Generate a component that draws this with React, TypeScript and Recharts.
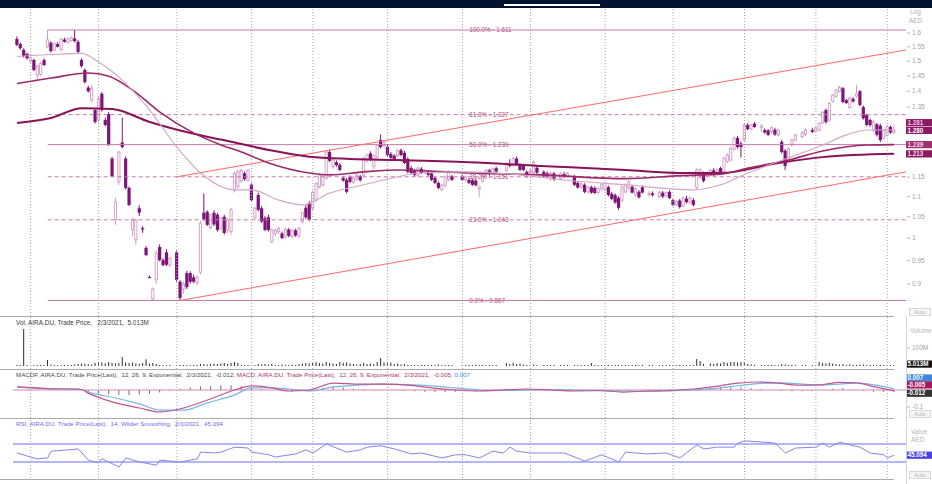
import React from 'react';
import { ComposedChart, Bar, Line, XAxis, YAxis, ReferenceLine, ReferenceDot } from 'recharts';

type Row = [number, number, number, number, number] | null; // open, high, low, close, volume (M)

// ---- daily candles, one array per month (trading days) ----
const JAN20: Row[] = [
  [1.578, 1.588, 1.553, 1.557, 4], [1.560, 1.566, 1.540, 1.545, 3], [1.539, 1.545, 1.512, 1.518, 205], [1.525, 1.530, 1.505, 1.510, 6],
];
const FEB20: Row[] = [
  [1.500, 1.515, 1.495, 1.512, 4], [1.504, 1.508, 1.466, 1.470, 5], [1.453, 1.487, 1.437, 1.483, 4], [1.455, 1.498, 1.450, 1.492, 3],
  [1.504, 1.510, 1.483, 1.487, 5], [1.550, 1.611, 1.545, 1.575, 33], [1.565, 1.570, 1.530, 1.535, 8], [1.538, 1.566, 1.535, 1.561, 4],
  [1.560, 1.567, 1.548, 1.550, 3], [1.540, 1.582, 1.535, 1.578, 4], [1.576, 1.582, 1.565, 1.568, 3], [1.566, 1.584, 1.562, 1.580, 3],
  [1.572, 1.588, 1.568, 1.583, 4], [1.580, 1.611, 1.566, 1.570, 8], [1.568, 1.575, 1.525, 1.532, 11], [1.504, 1.510, 1.478, 1.483, 14],
  [1.470, 1.475, 1.425, 1.430, 12], [1.412, 1.418, 1.396, 1.400, 9], [1.372, 1.420, 1.365, 1.410, 8], [1.341, 1.346, 1.300, 1.305, 17],
];
const MAR20: Row[] = [
  [1.311, 1.385, 1.305, 1.376, 22], [1.392, 1.398, 1.336, 1.341, 20], [1.311, 1.318, 1.292, 1.296, 15], [1.329, 1.335, 1.235, 1.238, 22],
  [1.200, 1.205, 1.150, 1.152, 17], [1.043, 1.097, 1.031, 1.087, 14], [1.138, 1.222, 1.130, 1.218, 17], [1.245, 1.318, 1.228, 1.232, 50],
  [1.200, 1.206, 1.118, 1.122, 20], [1.122, 1.126, 1.076, 1.079, 17], [1.019, 1.047, 1.005, 1.043, 20], [0.996, 1.045, 0.985, 1.043, 14],
  [1.071, 1.078, 1.052, 1.060, 11], [1.023, 1.028, 1.012, 1.020, 17], [0.978, 0.982, 0.960, 0.962, 38], [0.915, 0.918, 0.912, 0.914, 14],
  [0.870, 0.893, 0.867, 0.890, 17], [0.909, 0.973, 0.900, 0.966, 11], [0.980, 0.986, 0.948, 0.951, 6], [0.951, 0.955, 0.938, 0.940, 5],
  [0.968, 0.975, 0.938, 0.941, 4], [0.940, 0.958, 0.936, 0.955, 5],
];
const APR20: Row[] = [
  [0.968, 0.972, 0.905, 0.909, 4], [0.905, 0.908, 0.867, 0.872, 5], [0.890, 0.905, 0.880, 0.900, 3], [0.923, 0.928, 0.890, 0.894, 5],
  [0.923, 0.927, 0.901, 0.905, 3], [0.914, 0.920, 0.902, 0.905, 4], [0.903, 0.918, 0.898, 0.914, 6], [0.925, 1.040, 0.920, 1.035, 11],
  [1.060, 1.108, 1.040, 1.045, 11], [1.062, 1.066, 1.028, 1.031, 8], [1.025, 1.058, 1.020, 1.055, 11], [1.060, 1.066, 1.028, 1.032, 14],
  [1.055, 1.060, 1.015, 1.019, 11], [1.023, 1.050, 1.018, 1.047, 14], [1.050, 1.055, 1.008, 1.012, 17], [1.019, 1.047, 1.012, 1.043, 11],
  [1.015, 1.072, 1.008, 1.067, 17], [1.117, 1.165, 1.110, 1.160, 22], [1.125, 1.170, 1.120, 1.165, 17], [1.140, 1.172, 1.135, 1.168, 6],
  [1.160, 1.165, 1.140, 1.145, 5], [1.142, 1.172, 1.138, 1.169, 5],
];
const MAY20: Row[] = [
  [1.130, 1.136, 1.088, 1.091, 4], [1.048, 1.074, 1.042, 1.071, 5], [1.104, 1.110, 1.063, 1.067, 11], [1.071, 1.076, 1.035, 1.039, 8],
  [1.047, 1.052, 1.016, 1.019, 11], [1.049, 1.055, 1.015, 1.019, 8], [0.992, 1.023, 0.988, 1.019, 11], [1.011, 1.022, 1.005, 1.018, 6],
  [1.015, 1.026, 1.010, 1.022, 5], [1.011, 1.015, 0.998, 1.000, 8], [1.003, 1.025, 1.000, 1.020, 5], [1.020, 1.024, 1.002, 1.005, 6],
  [1.004, 1.022, 1.000, 1.018, 8], [1.018, 1.022, 1.003, 1.006, 5], [1.005, 1.026, 1.000, 1.022, 11], [1.038, 1.063, 1.034, 1.060, 14],
  [1.072, 1.078, 1.045, 1.049, 17], [1.083, 1.088, 1.040, 1.043, 14],
];
const JUN20: Row[] = [
  [1.071, 1.115, 1.066, 1.110, 17], [1.091, 1.137, 1.087, 1.133, 22], [1.125, 1.160, 1.120, 1.156, 17], [1.130, 1.160, 1.125, 1.156, 14],
  [1.148, 1.222, 1.143, 1.218, 22], [1.218, 1.225, 1.190, 1.194, 17], [1.178, 1.200, 1.172, 1.196, 14], [1.190, 1.195, 1.178, 1.182, 11],
  [1.183, 1.188, 1.166, 1.169, 22], [1.148, 1.152, 1.138, 1.141, 17], [1.143, 1.148, 1.108, 1.112, 20], [1.150, 1.155, 1.134, 1.138, 14],
  [1.137, 1.152, 1.132, 1.148, 11], [1.145, 1.160, 1.140, 1.155, 8], [1.152, 1.156, 1.138, 1.142, 11], [1.155, 1.205, 1.150, 1.200, 17],
  [1.195, 1.214, 1.188, 1.210, 11], [1.214, 1.220, 1.193, 1.196, 14], [1.178, 1.212, 1.172, 1.208, 11], [1.204, 1.240, 1.200, 1.236, 22],
  [1.252, 1.268, 1.228, 1.232, 44], [1.236, 1.250, 1.230, 1.246, 20],
];
const JUL20: Row[] = [
  [1.233, 1.240, 1.206, 1.210, 17], [1.213, 1.218, 1.199, 1.202, 20], [1.208, 1.212, 1.194, 1.197, 11], [1.208, 1.226, 1.204, 1.222, 14],
  [1.223, 1.228, 1.206, 1.210, 8], [1.216, 1.222, 1.185, 1.188, 11], [1.199, 1.204, 1.160, 1.164, 6], [1.174, 1.180, 1.158, 1.161, 5],
  [1.166, 1.172, 1.152, 1.156, 5], [1.155, 1.178, 1.150, 1.174, 4], [1.172, 1.177, 1.158, 1.161, 5], [1.162, 1.172, 1.158, 1.168, 4],
  [1.165, 1.169, 1.152, 1.156, 5], [1.160, 1.165, 1.140, 1.143, 6], [1.148, 1.152, 1.132, 1.135, 5], [1.135, 1.139, 1.118, 1.122, 8],
  [1.118, 1.132, 1.114, 1.129, 5], [1.128, 1.155, 1.124, 1.150, 6], [1.143, 1.168, 1.139, 1.164, 5], [1.152, 1.156, 1.140, 1.143, 4],
];
const AUG20: Row[] = [
  [1.152, 1.156, 1.140, 1.143, 4], [1.143, 1.155, 1.139, 1.150, 5], [1.143, 1.147, 1.132, 1.135, 5], [1.142, 1.146, 1.127, 1.130, 6],
  [1.141, 1.145, 1.126, 1.129, 8], [1.120, 1.128, 1.098, 1.125, 5], [1.140, 1.160, 1.136, 1.156, 6], [1.158, 1.172, 1.154, 1.168, 5],
  [1.168, 1.172, 1.154, 1.158, 4], [1.160, 1.176, 1.156, 1.172, 5], [1.174, 1.178, 1.162, 1.165, 6], null, null,
  [1.168, 1.190, 1.164, 1.187, 17], [1.186, 1.198, 1.176, 1.180, 11], [1.182, 1.205, 1.178, 1.200, 17], [1.200, 1.206, 1.180, 1.183, 11],
  [1.183, 1.188, 1.166, 1.169, 14], [1.182, 1.186, 1.166, 1.169, 8], [1.164, 1.168, 1.148, 1.152, 5],
];
const SEP20: Row[] = [
  [1.162, 1.172, 1.158, 1.168, 5], [1.162, 1.195, 1.158, 1.190, 8], [1.175, 1.180, 1.158, 1.162, 5], null,
  [1.164, 1.168, 1.148, 1.152, 6], [1.160, 1.165, 1.148, 1.151, 5], [1.150, 1.165, 1.140, 1.160, 4], [1.160, 1.164, 1.140, 1.145, 5], null,
  [1.146, 1.164, 1.142, 1.160, 4], [1.158, 1.164, 1.148, 1.152, 5], [1.152, 1.164, 1.148, 1.160, 4], null,
  [1.152, 1.156, 1.127, 1.130, 6], [1.135, 1.140, 1.120, 1.123, 5], [1.124, 1.136, 1.119, 1.132, 4], [1.130, 1.134, 1.108, 1.112, 6],
  [1.112, 1.127, 1.108, 1.124, 5], [1.124, 1.128, 1.107, 1.110, 17], [1.122, 1.126, 1.106, 1.109, 6], [1.110, 1.124, 1.106, 1.120, 5],
  [1.120, 1.134, 1.114, 1.130, 4],
];
const OCT20: Row[] = [
  [1.117, 1.138, 1.113, 1.134, 5], [1.124, 1.128, 1.100, 1.104, 4], [1.107, 1.112, 1.091, 1.094, 5], [1.104, 1.108, 1.082, 1.085, 4],
  [1.097, 1.101, 1.067, 1.072, 6], [1.091, 1.128, 1.086, 1.124, 5], [1.112, 1.134, 1.108, 1.130, 4], [1.122, 1.142, 1.117, 1.138, 5],
  [1.125, 1.130, 1.108, 1.110, 4], [1.104, 1.124, 1.100, 1.120, 3], [1.112, 1.116, 1.095, 1.098, 4], [1.124, 1.128, 1.108, 1.110, 5], null,
  [1.105, 1.114, 1.100, 1.108, 3], [1.108, 1.113, 1.100, 1.104, 3], null,
  [1.100, 1.114, 1.096, 1.110, 3], [1.110, 1.114, 1.096, 1.100, 4], [1.102, 1.113, 1.098, 1.110, 3], [1.112, 1.116, 1.094, 1.096, 4],
];
const NOV20: Row[] = [
  [1.091, 1.094, 1.076, 1.079, 4], [1.080, 1.092, 1.076, 1.088, 3], [1.090, 1.094, 1.070, 1.074, 4], [1.078, 1.100, 1.074, 1.096, 5],
  [1.095, 1.102, 1.083, 1.086, 4], [1.086, 1.100, 1.080, 1.096, 5], [1.091, 1.096, 1.075, 1.079, 6], [1.123, 1.174, 1.118, 1.169, 39],
  [1.150, 1.175, 1.145, 1.169, 28], [1.160, 1.165, 1.136, 1.140, 11], null, [1.156, 1.172, 1.152, 1.168, 14],
  [1.168, 1.174, 1.152, 1.156, 11], [1.158, 1.173, 1.154, 1.169, 17], [1.174, 1.178, 1.160, 1.164, 14], [1.164, 1.205, 1.160, 1.200, 22],
  [1.193, 1.215, 1.188, 1.210, 17], [1.196, 1.232, 1.192, 1.228, 22], [1.226, 1.262, 1.222, 1.257, 22], [1.258, 1.264, 1.228, 1.232, 20],
  [1.242, 1.248, 1.203, 1.232, 22],
];
const DEC20: Row[] = [
  [1.252, 1.300, 1.248, 1.296, 22], [1.296, 1.302, 1.280, 1.284, 11], [1.284, 1.300, 1.280, 1.296, 8], [1.300, 1.305, 1.288, 1.290, 6], null,
  [1.288, 1.298, 1.276, 1.294, 5], [1.281, 1.286, 1.270, 1.274, 5], [1.280, 1.284, 1.263, 1.267, 6], [1.276, 1.292, 1.272, 1.288, 5],
  [1.282, 1.288, 1.264, 1.268, 6], [1.267, 1.284, 1.262, 1.281, 5], [1.247, 1.252, 1.214, 1.218, 11], [1.222, 1.226, 1.169, 1.180, 8],
  [1.203, 1.232, 1.198, 1.227, 6], [1.238, 1.256, 1.234, 1.252, 5], [1.252, 1.270, 1.248, 1.266, 6], null,
  [1.262, 1.278, 1.258, 1.273, 5], [1.268, 1.286, 1.264, 1.281, 6], null, [1.281, 1.288, 1.272, 1.276, 5],
];
const JAN21: Row[] = [
  [1.278, 1.292, 1.274, 1.287, 6], [1.281, 1.305, 1.276, 1.300, 22], [1.302, 1.338, 1.298, 1.334, 17], [1.341, 1.346, 1.300, 1.305, 14],
  [1.311, 1.366, 1.306, 1.362, 17], [1.368, 1.392, 1.364, 1.388, 14], [1.384, 1.408, 1.380, 1.404, 11], [1.400, 1.418, 1.396, 1.412, 8],
  [1.410, 1.414, 1.362, 1.366, 11], [1.372, 1.376, 1.360, 1.363, 6], [1.349, 1.382, 1.345, 1.378, 8], [1.376, 1.382, 1.364, 1.368, 5],
  [1.385, 1.420, 1.380, 1.392, 6], [1.400, 1.404, 1.352, 1.357, 8], [1.350, 1.355, 1.312, 1.316, 8], [1.326, 1.330, 1.292, 1.296, 6],
  [1.311, 1.315, 1.290, 1.296, 5], [1.281, 1.310, 1.276, 1.305, 5], [1.298, 1.302, 1.262, 1.267, 6], [1.294, 1.300, 1.246, 1.252, 6],
  [1.258, 1.284, 1.254, 1.281, 5],
];
const FEB21: Row[] = [
  [1.266, 1.296, 1.262, 1.292, 6], [1.290, 1.294, 1.270, 1.274, 5], [1.274, 1.296, 1.270, 1.280, 5.013],
];

const MONTHS: Row[][] = [JAN20, FEB20, MAR20, APR20, MAY20, JUN20, JUL20, AUG20, SEP20, OCT20, NOV20, DEC20, JAN21, FEB21];
// trading-day index of the first session of each month (month gridlines)
const MONTH_STARTS = [0, 4, 24, 47, 69, 87, 109, 131, 151, 173, 193, 214, 235, 256];

// moving averages [day, value]
const MA_SHORT: [number, number][] = [
  [0, 1.516], [10, 1.523], [19, 1.527], [24, 1.497], [32, 1.425], [39, 1.341], [47, 1.232], [54, 1.161], [64, 1.117], [69, 1.117],
  [77, 1.091], [84, 1.079], [92, 1.109], [102, 1.130], [112, 1.151], [118, 1.161], [133, 1.164], [148, 1.156], [160, 1.143],
  [179, 1.130], [199, 1.117], [207, 1.130], [215, 1.161], [227, 1.202], [237, 1.238], [244, 1.267], [250, 1.281], [258, 1.281],
];
const MA_MID: [number, number][] = [
  [0, 1.425], [10, 1.443], [21, 1.460], [27, 1.449], [34, 1.404], [42, 1.335], [52, 1.272], [60, 1.238], [66, 1.218], [74, 1.188],
  [86, 1.161], [92, 1.156], [102, 1.164], [112, 1.169], [133, 1.161], [154, 1.156], [179, 1.146], [195, 1.154], [207, 1.158],
  [215, 1.174], [227, 1.196], [237, 1.221], [250, 1.238], [258, 1.239],
];
const MA_LONG: [number, number][] = [
  [0, 1.302], [10, 1.317], [19, 1.347], [28, 1.344], [39, 1.305], [52, 1.270], [63, 1.247], [74, 1.224], [86, 1.205], [98, 1.199],
  [112, 1.196], [133, 1.190], [154, 1.180], [179, 1.169], [195, 1.161], [207, 1.161], [224, 1.188], [237, 1.204], [258, 1.213],
];

const FIB = [
  { pct: '100.0%', v: 1.611, dash: false },
  { pct: '61.8%', v: 1.327, dash: true },
  { pct: '50.0%', v: 1.239, dash: false },
  { pct: '38.2%', v: 1.151, dash: true },
  { pct: '23.6%', v: 1.043, dash: true },
  { pct: '0.0%', v: 0.867, dash: false },
];
const FIB_START_DAY = 9;
const FIB_LABEL_DAY = 133;
const CHANNEL_LOW = [{ x: 48, y: 0.867 }, { x: 261.5, y: 1.164 }];
const CHANNEL_HIGH = [{ x: 47, y: 1.151 }, { x: 261.5, y: 1.539 }];

// MACD [day, macd, signal]
const MACD: [number, number, number][] = [
  [0, 0.018, 0.018], [6, 0.012, 0.010], [12, 0.006, 0.008], [18, 0.006, 0.006], [22, -0.029, -0.018], [29, -0.076, -0.047],
  [36, -0.106, -0.082], [42, -0.129, -0.118], [49, -0.106, -0.118], [56, -0.059, -0.076], [64, 0.000, -0.029], [69, 0.024, 0.012],
  [75, 0.012, 0.012], [80, -0.006, 0.006], [86, 0.000, -0.006], [93, 0.041, 0.018], [101, 0.035, 0.030], [108, 0.035, 0.035],
  [115, 0.029, 0.032], [122, 0.012, 0.024], [129, 0.000, 0.012], [136, -0.006, 0.000], [143, 0.000, -0.003], [150, 0.006, 0.000],
  [157, 0.000, 0.003], [164, -0.006, 0.000], [171, -0.003, -0.004], [178, -0.012, -0.006], [185, -0.006, -0.008], [192, -0.003, -0.006],
  [199, 0.006, 0.000], [205, 0.020, 0.008], [212, 0.040, 0.025], [218, 0.047, 0.038], [224, 0.040, 0.042], [230, 0.028, 0.036],
  [236, 0.030, 0.030], [242, 0.045, 0.035], [247, 0.042, 0.040], [252, 0.020, 0.030], [258, -0.005, 0.007],
];
// MACD histogram, sampled every 3rd session
const MACD_HIST_STEP = 3;
const MACD_HIST = [
  0.002, 0.003, 0.002, 0.000, -0.002, 0.000, -0.002, -0.010, -0.018, -0.025, -0.028, -0.030, -0.027, -0.022, -0.015, -0.005,
  0.008, 0.015, 0.020, 0.024, 0.027, 0.028, 0.022, 0.014, 0.004, 0.000, -0.006, -0.010, -0.006, 0.004, 0.012, 0.020, 0.014,
  0.008, 0.004, 0.002, 0.000, -0.002, -0.004, -0.008, -0.010, -0.012, -0.012, -0.010, -0.008, -0.006, -0.003, 0.002, 0.004,
  0.005, 0.006, 0.003, -0.002, -0.004, -0.006, -0.005, -0.002, 0.001, -0.004, -0.008, -0.006, 0.002, 0.003, 0.004, 0.003,
  0.006, 0.008, 0.012, 0.014, 0.016, 0.015, 0.014, 0.010, 0.006, 0.000, -0.005, -0.008, -0.007, -0.003, 0.002, 0.008, 0.010,
  0.004, -0.004, -0.010, -0.012, -0.012,
];
// RSI [day, value]
const RSI: [number, number][] = [
  [0, 50], [4, 41], [6, 37], [9, 39], [10, 54], [15, 57], [18, 59], [21, 34], [24, 28], [25, 37], [30, 19], [32, 39], [36, 30],
  [41, 23], [42, 34], [48, 30], [53, 37], [54, 52], [58, 50], [60, 52], [64, 63], [68, 61], [69, 52], [74, 46], [76, 41], [82, 48],
  [85, 57], [87, 50], [91, 70], [97, 52], [101, 57], [103, 63], [107, 66], [111, 59], [116, 48], [119, 50], [125, 39], [129, 46],
  [132, 46], [136, 39], [140, 54], [143, 50], [145, 63], [147, 54], [151, 50], [161, 50], [167, 32], [172, 46], [177, 30], [179, 52],
  [185, 48], [191, 50], [195, 39], [200, 68], [202, 59], [206, 63], [211, 63], [212, 72], [214, 77], [220, 74], [223, 72], [226, 50],
  [229, 61], [235, 63], [237, 72], [239, 63], [242, 74], [245, 68], [248, 63], [251, 50], [255, 46], [256, 39], [258, 45.094],
];

// visible price-axis ticks (1.2 – 1.3 sit behind the value tags)
const PRICE_TICKS = [0.9, 0.95, 1, 1.05, 1.1, 1.15, 1.35, 1.4, 1.45, 1.5, 1.55, 1.6];
const LAST = { close: 1.28, maShort: 1.281, maMid: 1.239, maLong: 1.213, vol: 5.013, macdf: -0.012, macd: -0.005, signal: 0.007, rsi: 45.094 };

const VOL_TITLE = 'Vol, AIRA.DU, Trade Price,   2/3/2021,  5.013M';
const MACDF_TITLE = 'MACDF, AIRA.DU, Trade Price(Last),  12, 26, 9, Exponential,  2/3/2021,  -0.012, ';
const MACD_TITLE = 'MACD, AIRA.DU, Trade Price(Last),  12, 26, 9, Exponential,  2/3/2021,  -0.005, ';
const SIGNAL_TITLE = '0.007';
const RSI_TITLE = 'RSI, AIRA.DU, Trade Price(Last),  14, Wilder Smoothing,  2/3/2021,  45.094';

// ---- derived tables ----
const candles = MONTHS.flatMap((rows, mi) =>
  rows.flatMap((r, k) => (r ? [{ d: MONTH_STARTS[mi] + k, o: r[0], h: r[1], l: r[2], c: r[3], v: r[4] }] : []))
);
const toXY = (a: [number, number][]) => a.map(([d, v]) => ({ d, v }));
const maShort = toXY(MA_SHORT);
const maMid = toXY(MA_MID);
const maLong = toXY(MA_LONG);
const macdRows = MACD.map(([d, m, s]) => ({ d, m, s }));
const histRows = MACD_HIST.map((h, i) => ({ d: i * MACD_HIST_STEP, h }));
const rsiRows = toXY(RSI);

const X_DOMAIN: [number, number] = [-1.2, 261.5];
const FONT = '"Liberation Sans", Arial, sans-serif';
const UP = '#d09bc5';
const DOWN = '#7e1478';
const GRID = '#a4a4a4';

const Candle = (props: any) => {
  const { x, y, width, height, payload } = props;
  if (!payload || height == null) return null;
  const { o, h, l, c } = payload;
  const yTop = Math.min(y, y + height);
  const hgt = Math.abs(height);
  const lnH = Math.log(h);
  const span = lnH - Math.log(l) || 1;
  const yOf = (v: number) => yTop + (hgt * (lnH - Math.log(v))) / span;
  const cx = x + width / 2;
  const up = c >= o;
  const color = up ? UP : DOWN;
  const bt = yOf(Math.max(o, c));
  const bb = yOf(Math.min(o, c));
  return (
    <g>
      <line x1={cx} x2={cx} y1={yTop} y2={yTop + hgt} stroke={color} strokeWidth={1} />
      {up ? (
        <rect x={cx - 1.1} y={bt} width={2.2} height={Math.max(1, bb - bt)} fill="#fff" stroke={color} strokeWidth={0.9} />
      ) : (
        <rect x={cx - 1.6} y={bt} width={3.2} height={Math.max(1, bb - bt)} fill={color} />
      )}
    </g>
  );
};

const axisTick = (fmt: (v: number) => string) => (p: any) => (
  <g>
    <line x1={p.x + 1} x2={p.x + 4} y1={p.y} y2={p.y} stroke="#b4b4b4" strokeWidth={1} />
    <text x={p.x + 6} y={p.y} dy="0.34em" fontSize={6.5} fill="#a2a2a2" fontFamily={FONT}>
      {fmt(p.payload.value)}
    </text>
  </g>
);

const tag = (text: string, bg: string, fg: string, dy = 0) => (p: any) => (
  <g>
    <rect x={p.cx} y={p.cy + dy - 3.6} width={26} height={7.2} fill={bg} />
    <text x={p.cx + 1.5} y={p.cy + dy} dy="0.35em" fontSize={6.3} fontWeight="bold" fill={fg} fontFamily={FONT}>
      {text}
    </text>
  </g>
);

const fibLabel = (text: string) => (p: any) => (
  <text x={p.cx} y={p.cy} dy="0.34em" fontSize={6.3} fill="#b0507e" fontFamily={FONT}>
    {text}
  </text>
);

const gridLines = (prefix: string) =>
  MONTH_STARTS.slice(1).map((d) => (
    <ReferenceLine key={prefix + d} x={d} stroke={GRID} strokeDasharray="1 2" strokeWidth={1} />
  ));

const xAxis = <XAxis type="number" dataKey="d" domain={X_DOMAIN} allowDataOverflow hide />;

const PriceChart = () => (
  <ComposedChart width={932} height={308} data={candles} margin={{ top: 0, right: 0, bottom: 0, left: 13 }}>
    {xAxis}
    <YAxis
      orientation="right"
      scale="log"
      domain={[0.83667, 1.6943]}
      allowDataOverflow
      ticks={PRICE_TICKS}
      interval={0}
      tick={axisTick((v) => String(v))}
      tickSize={0}
      tickMargin={0}
      axisLine={false}
      tickLine={false}
      width={26}
    />
    {gridLines('pg')}
    {FIB.map((f) => (
      <ReferenceLine
        key={'fib' + f.pct}
        segment={[{ x: FIB_START_DAY, y: f.v }, { x: X_DOMAIN[1], y: f.v }]}
        stroke="#c97aa6"
        strokeWidth={1}
        strokeDasharray={f.dash ? '4 3' : undefined}
      />
    ))}
    <ReferenceLine segment={CHANNEL_LOW} stroke="#ff6868" strokeWidth={1} />
    <ReferenceLine segment={CHANNEL_HIGH} stroke="#ff6868" strokeWidth={1} />
    <Line data={maLong} dataKey="v" type="monotone" stroke="#8a1257" strokeWidth={2} dot={false} isAnimationActive={false} />
    <Line data={maMid} dataKey="v" type="monotone" stroke="#9b2a6d" strokeWidth={1.6} dot={false} isAnimationActive={false} />
    <Bar dataKey={(p: any) => [p.l, p.h]} shape={Candle} barSize={3} isAnimationActive={false} />
    <Line data={maShort} dataKey="v" type="monotone" stroke="#d4a4c7" strokeWidth={1.1} dot={false} isAnimationActive={false} />
    {FIB.map((f) => (
      <ReferenceDot key={'fl' + f.pct} x={FIB_LABEL_DAY} y={f.v} r={1} ifOverflow="visible" shape={fibLabel(`${f.pct} - ${f.v.toFixed(3)}`)} />
    ))}
    <ReferenceDot x={X_DOMAIN[1]} y={LAST.maShort} r={1} ifOverflow="visible" shape={tag(LAST.maShort.toFixed(3), '#8c1a62', '#f2c6e2', -7.4)} />
    <ReferenceDot x={X_DOMAIN[1]} y={LAST.close} r={1} ifOverflow="visible" shape={tag(LAST.close.toFixed(3), '#8c1a62', '#ffffff')} />
    <ReferenceDot x={X_DOMAIN[1]} y={LAST.maMid} r={1} ifOverflow="visible" shape={tag(LAST.maMid.toFixed(3), '#a0306e', '#f6d6ea')} />
    <ReferenceDot x={X_DOMAIN[1]} y={LAST.maLong} r={1} ifOverflow="visible" shape={tag(LAST.maLong.toFixed(3), '#8a1a5a', '#f6d6ea')} />
  </ComposedChart>
);

const VolumeChart = () => (
  <ComposedChart width={932} height={53} data={candles} margin={{ top: 0, right: 0, bottom: 0, left: 13 }}>
    {xAxis}
    <YAxis
      orientation="right"
      domain={[-16.7, 277.8]}
      allowDataOverflow
      ticks={[100]}
      interval={0}
      tick={axisTick((v) => `${v}M`)}
      tickSize={0}
      tickMargin={0}
      axisLine={false}
      tickLine={false}
      width={26}
    />
    {gridLines('vg')}
    <Bar dataKey="v" fill="#2e2e2e" barSize={1} minPointSize={1} isAnimationActive={false} />
    <ReferenceDot x={X_DOMAIN[1]} y={LAST.vol} r={1} ifOverflow="visible" shape={tag('5.013M', '#111111', '#ffffff', -1)} />
  </ComposedChart>
);

const MacdChart = () => (
  <ComposedChart width={932} height={49} data={histRows} margin={{ top: 0, right: 0, bottom: 0, left: 13 }}>
    {xAxis}
    <YAxis
      orientation="right"
      domain={[-0.1647, 0.1235]}
      allowDataOverflow
      ticks={[-0.1]}
      interval={0}
      tick={axisTick((v) => String(v))}
      tickSize={0}
      tickMargin={0}
      axisLine={false}
      tickLine={false}
      width={26}
    />
    {gridLines('mg')}
    <ReferenceLine y={0} stroke="#d687b6" strokeWidth={1.2} />
    <Bar dataKey="h" fill="#6a6a6a" barSize={1} isAnimationActive={false} />
    <Line data={macdRows} dataKey="s" type="monotone" stroke="#72b6ea" strokeWidth={1.2} dot={false} isAnimationActive={false} />
    <Line data={macdRows} dataKey="m" type="monotone" stroke="#c4548e" strokeWidth={1.2} dot={false} isAnimationActive={false} />
    <ReferenceDot x={X_DOMAIN[1]} y={LAST.signal} r={1} ifOverflow="visible" shape={tag('0.007', '#3d86d8', '#ffffff', -10.8)} />
    <ReferenceDot x={X_DOMAIN[1]} y={LAST.macd} r={1} ifOverflow="visible" shape={tag('-0.005', '#a8185e', '#ffffff', -5.9)} />
    <ReferenceDot x={X_DOMAIN[1]} y={LAST.macdf} r={1} ifOverflow="visible" shape={tag('-0.012', '#333333', '#ffffff', 1.2)} />
  </ComposedChart>
);

const RsiChart = () => (
  <ComposedChart width={932} height={60} data={rsiRows} margin={{ top: 0, right: 0, bottom: 0, left: 13 }}>
    {xAxis}
    <YAxis orientation="right" domain={[-5.6, 127.8]} allowDataOverflow tick={false} axisLine={false} tickLine={false} width={26} />
    {gridLines('rg')}
    <ReferenceLine y={70} stroke="#9c9cf6" strokeWidth={1.5} />
    <ReferenceLine y={30} stroke="#9c9cf6" strokeWidth={1.5} />
    <Line dataKey="v" type="linear" stroke="#8484f2" strokeWidth={1} dot={false} isAnimationActive={false} />
    <ReferenceDot x={X_DOMAIN[1]} y={LAST.rsi} r={1} ifOverflow="visible" shape={tag('45.094', '#4b40e2', '#ffffff')} />
  </ComposedChart>
);

const txt = (left: number, top: number, color: string, size = 6.2) => ({
  position: 'absolute' as const,
  left,
  top,
  fontSize: size,
  lineHeight: '8px',
  color,
  whiteSpace: 'pre' as const,
  fontFamily: FONT,
});

const AutoBox = ({ top }: { top: number }) => (
  <div style={{ position: 'absolute', left: 909, top, width: 20, height: 6, border: '1px solid #d8d8d8', background: '#f4f4f4', fontSize: 5.5, lineHeight: '6px', color: '#b8b8b8', textAlign: 'center', fontFamily: FONT }}>
    Auto
  </div>
);

export default function App() {
  return (
    <div style={{ position: 'relative', width: 932, height: 484, overflow: 'hidden', background: '#fff', fontFamily: FONT }}>
      <style>{'body{margin:0;background:#fff}'}</style>
      <div style={{ position: 'absolute', left: 0, top: 0, width: 932, height: 8, background: '#03122f' }} />
      <div style={{ position: 'absolute', left: 504, top: 4, width: 96, height: 2, background: '#ffffff' }} />

      <div style={{ position: 'absolute', left: 0, top: 8 }}>
        <PriceChart />
      </div>
      <div style={{ position: 'absolute', left: 0, top: 316 }}>
        <VolumeChart />
      </div>
      <div style={{ position: 'absolute', left: 0, top: 369 }}>
        <MacdChart />
      </div>
      <div style={{ position: 'absolute', left: 0, top: 418 }}>
        <RsiChart />
      </div>

      {[316, 369, 418, 479].map((t) => (
        <div key={t} style={{ position: 'absolute', left: 0, top: t, width: 894, height: 1, background: '#ababab' }} />
      ))}
      <div style={{ position: 'absolute', left: 906, top: 316, width: 1, height: 168, background: '#d6d6d6' }} />

      <div style={txt(910, 8, '#b0b0b0', 6.5)}>Log</div>
      <div style={txt(909, 17, '#b0b0b0', 6.5)}>AED</div>
      <div style={txt(16, 319, '#3a3a3a', 6.4)}>{VOL_TITLE}</div>
      <div style={txt(910, 327, '#b8b8b8', 6.5)}>Volume</div>
      <div style={txt(16, 371, '#4a4a4a')}>
        {MACDF_TITLE}
        <span style={{ color: '#b0306e' }}>{MACD_TITLE}</span>
        <span style={{ color: '#3a8ee6' }}>{SIGNAL_TITLE}</span>
      </div>
      <div style={txt(16, 420, '#6d6df2')}>{RSI_TITLE}</div>
      <div style={txt(911, 428, '#b8b8b8', 6.5)}>Value</div>
      <div style={txt(911, 436, '#b8b8b8', 6.5)}>AED</div>
      <AutoBox top={308} />
      <AutoBox top={410} />
      <AutoBox top={471} />
    </div>
  );
}
